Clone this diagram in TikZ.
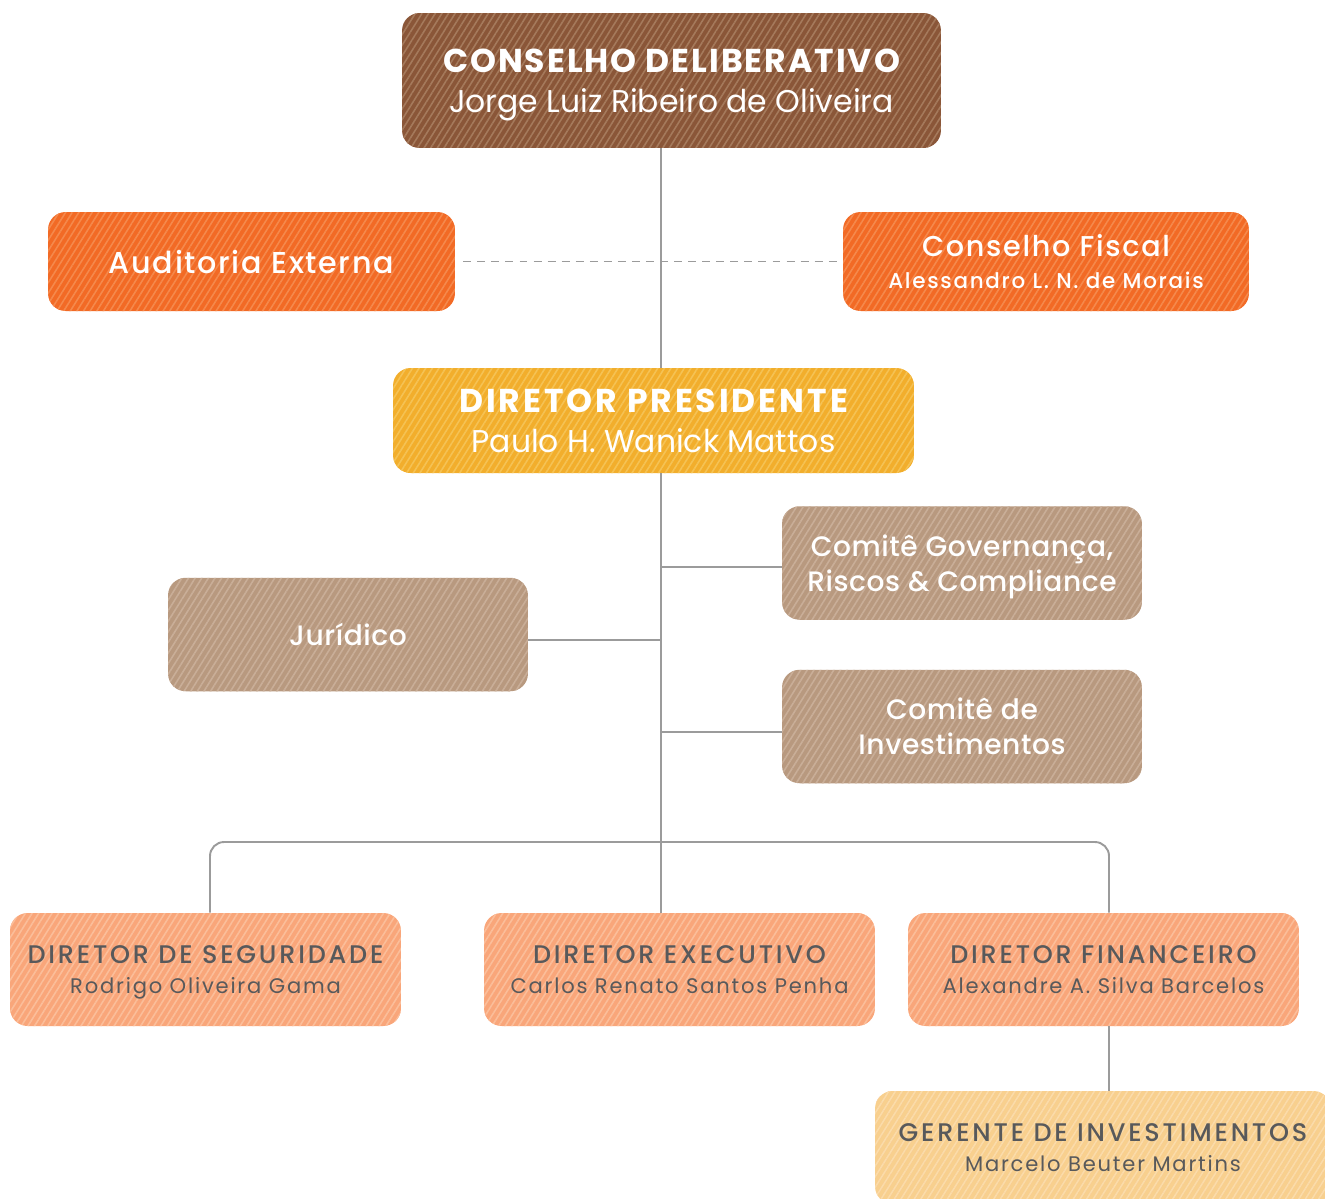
\documentclass[tikz,border=0pt]{standalone}
\usepackage{fontspec}
\setmainfont{Poppins}
\newfontfamily\medfont{Poppins Medium}
\usetikzlibrary{patterns.meta}

\definecolor{cdbrown}{HTML}{8A5638}
\definecolor{cdstripe}{HTML}{A57A5C}
\definecolor{fiscal}{HTML}{F26A25}
\definecolor{fiscalstripe}{HTML}{F5894C}
\definecolor{presi}{HTML}{F2AE2C}
\definecolor{presistripe}{HTML}{F5C254}
\definecolor{comite}{HTML}{B8997F}
\definecolor{comitestripe}{HTML}{C9AE98}
\definecolor{diretor}{HTML}{F9A67A}
\definecolor{diretorstripe}{HTML}{FBBE9A}
\definecolor{gerente}{HTML}{F8D08E}
\definecolor{gerentestripe}{HTML}{FADDA8}
\definecolor{darktext}{HTML}{58595B}
\definecolor{linegray}{HTML}{9B9B9B}

\newcommand{\dirtitle}[1]{{\medfont\addfontfeatures{LetterSpace=11}#1}}
\newcommand{\dirname}[1]{{\fontsize{12}{17}\selectfont\addfontfeatures{LetterSpace=8.5}#1}}

\tikzset{
  box/.style={rectangle, rounded corners=10pt, align=center, inner sep=0pt, text=white,
    text depth=0pt},
  hatch/.style={postaction={pattern={Lines[angle=58,distance=3.2pt,line width=0.9pt]}, pattern color=#1}},
  link/.style={draw=linegray, line width=1.1pt},
  dirbox/.style={box, fill=diretor, hatch=diretorstripe, text=darktext,
    minimum width=7.82cm, minimum height=2.26cm, font=\fontsize{14.5}{17}\selectfont},
  comitebox/.style={box, fill=comite, hatch=comitestripe,
    minimum width=7.20cm, minimum height=2.27cm,
    font=\medfont\fontsize{16}{20}\selectfont\addfontfeatures{LetterSpace=2}}
}

\begin{document}
\begin{tikzpicture}[x=0.02cm, y=-0.02cm]
    \useasboundingbox (0,0) rectangle (1325,1198);
    \clip (0,0) rectangle (1325,1198);

    % topo
    \node[box, fill=cdbrown, hatch=cdstripe, minimum width=10.78cm, minimum height=2.70cm,
      font=\fontsize{17.9}{22.8}\selectfont] (cd) at (671.5,80.5)
      {{\fontsize{18.8}{22.8}\selectfont\bfseries\addfontfeatures{LetterSpace=6}CONSELHO DELIBERATIVO}\\
       Jorge Luiz Ribeiro de Oliveira};
    \node[box, fill=fiscal, hatch=fiscalstripe, minimum width=8.14cm, minimum height=1.98cm,
      font=\medfont\fontsize{17.2}{18.2}\selectfont\addfontfeatures{LetterSpace=5.5}] (aud) at (251.5,261.5)
      {Auditoria Externa};
    \node[box, fill=fiscal, hatch=fiscalstripe, minimum width=8.12cm, minimum height=1.98cm,
      font=\medfont\fontsize{16.3}{18.2}\selectfont] (cf) at (1046,261.5)
      {{\addfontfeatures{LetterSpace=6}Conselho Fiscal}\\
       {\fontsize{12.2}{18.2}\selectfont\addfontfeatures{LetterSpace=8}Alessandro L. N. de Morais}};
    \node[box, fill=presi, hatch=presistripe, minimum width=10.42cm, minimum height=2.10cm,
      font=\fontsize{17.9}{22.8}\selectfont] (dp) at (653.5,420.5)
      {{\fontsize{18.8}{22.8}\selectfont\bfseries\addfontfeatures{LetterSpace=9}DIRETOR PRESIDENTE}\\
       Paulo H. Wanick Mattos};

    % comites
    \node[comitebox] (cgov) at (962,563) {Comitê Governança,\\ Riscos \& Compliance};
    \node[comitebox] (jur) at (348,634.5) {Jurídico};
    \node[comitebox] (cinv) at (962,726.5) {Comitê de\\ Investimentos};

    % diretoria
    \node[dirbox] (dseg) at (205.5,969.5)
      {\dirtitle{DIRETOR DE SEGURIDADE}\\ \dirname{Rodrigo Oliveira Gama}};
    \node[dirbox] (dexe) at (679.5,969.5)
      {\dirtitle{DIRETOR EXECUTIVO}\\ \dirname{Carlos Renato Santos Penha}};
    \node[dirbox] (dfin) at (1103.5,969.5)
      {\dirtitle{DIRETOR FINANCEIRO}\\ \dirname{Alexandre A. Silva Barcelos}};
    \node[dirbox, fill=gerente, hatch=gerentestripe, minimum width=9.12cm] (ger) at (1103,1147.5)
      {\dirtitle{GERENTE DE INVESTIMENTOS}\\ \dirname{Marcelo Beuter Martins}};

    \coordinate (trunk) at (661,842);

    \draw[link] (cd.south -| trunk) -- (dp.north -| trunk);
    \draw[link] (dp.south -| trunk) -- (dexe.north -| trunk);
    \draw[draw=linegray, line width=0.8pt, dash pattern=on 4.5pt off 3.5pt,
      shorten <=0.16cm, shorten >=0.1cm] (aud.east) -- (cf.west);
    \draw[link] ([yshift=-0.11cm]jur.east) -- ([yshift=-0.11cm]jur.east -| trunk);
    \draw[link] ([yshift=-0.08cm]cgov.west) -- ([yshift=-0.08cm]cgov.west -| trunk);
    \draw[link] ([yshift=-0.11cm]cinv.west) -- ([yshift=-0.11cm]cinv.west -| trunk);
    \draw[link, rounded corners=8pt] ([xshift=0.09cm]dseg.north) -- ([xshift=0.09cm]dseg.north |- trunk)
      -- ([xshift=0.11cm]dfin.north |- trunk) -- ([xshift=0.11cm]dfin.north);
    \draw[link] ([xshift=0.11cm]dfin.south) -- ([xshift=0.11cm]dfin.south |- ger.north);
\end{tikzpicture}
\end{document}
